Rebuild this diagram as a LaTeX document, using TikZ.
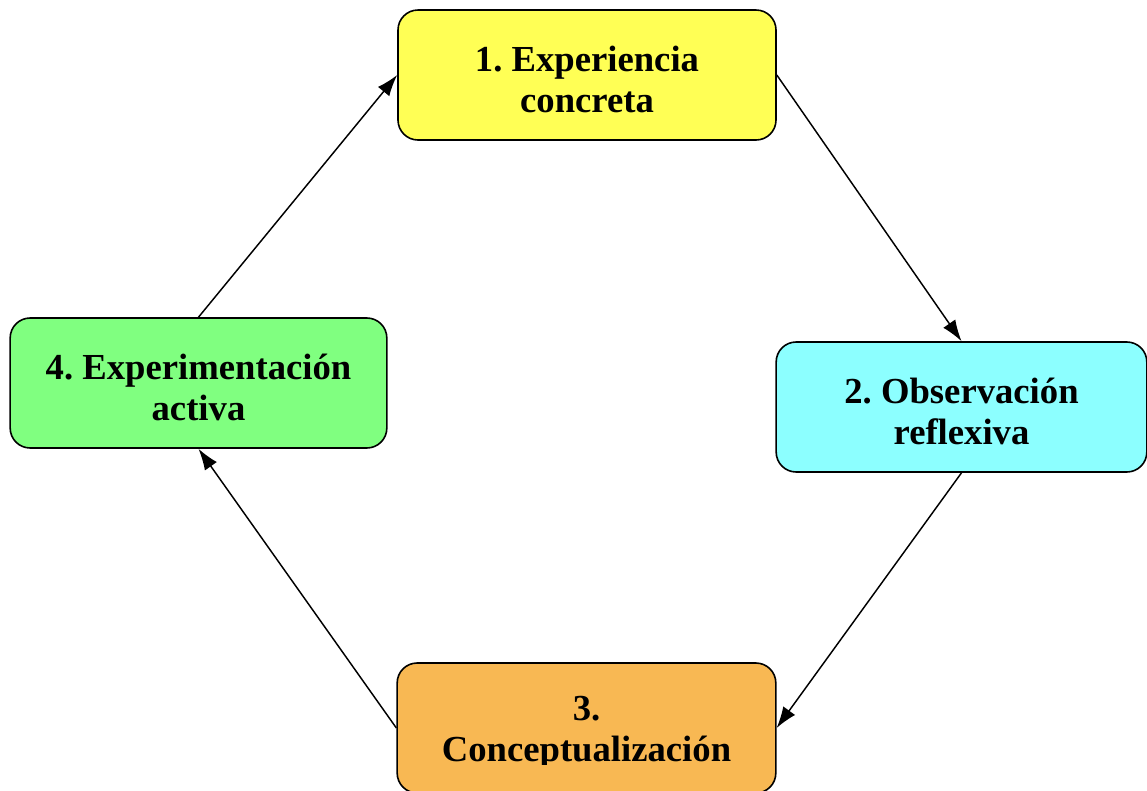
\documentclass[tikz,border=0pt]{standalone}
\usepackage{fontspec}
\setmainfont{Liberation Serif}
\usetikzlibrary{arrows.meta}
\definecolor{amarillo}{RGB}{255,255,85}
\definecolor{celeste}{RGB}{140,255,255}
\definecolor{naranja}{RGB}{248,184,83}
\definecolor{verde}{RGB}{128,255,128}
\frenchspacing
\begin{document}
\begin{tikzpicture}[x=0.75pt,y=0.75pt,yscale=-1,xscale=1,
  etapa/.style={draw,line width=1.2pt,rounded corners=15pt,minimum height=97.5pt,inner sep=0pt},
  etiqueta/.style={align=center,inner sep=0pt,font=\fontsize{27.5}{30.5}\selectfont\bfseries},
  flecha/.style={-{Latex[length=16pt,width=11pt]},line width=1.1pt}]
\useasboundingbox (0,0) rectangle (1147,790);
% cajas
\node [etapa,fill=amarillo,minimum width=283.5pt] (exp) at (587,75) {};
\node [etapa,fill=celeste,minimum width=278pt] (obs) at (961.5,407) {};
\node [etapa,fill=naranja,minimum width=284pt] (con) at (586.5,728) {};
\node [etapa,fill=verde,minimum width=282.5pt] (act) at (198.5,383) {};
% textos
\node [etiqueta] (t1) at ([yshift=3.5pt]exp) {1. Experiencia\\concreta};
\node [etiqueta] (t2) at ([yshift=3.5pt]obs) {2. Observación\\reflexiva};
\begin{scope}
\clip (397,663) rectangle (776,764);
\node [etiqueta] (t3) at ([yshift=3.5pt]con) {3.\\Conceptualización};
\end{scope}
\node [etiqueta] (t4) at ([yshift=3.5pt]act) {4. Experimentación\\activa};
% ciclo
\draw [flecha] (exp.east) -- (obs.north);
\draw [flecha] (obs.south) -- (con.east);
\draw [flecha] (con.west) -- (act.south);
\draw [flecha] (act.north) -- (exp.west);
\end{tikzpicture}
\end{document}
